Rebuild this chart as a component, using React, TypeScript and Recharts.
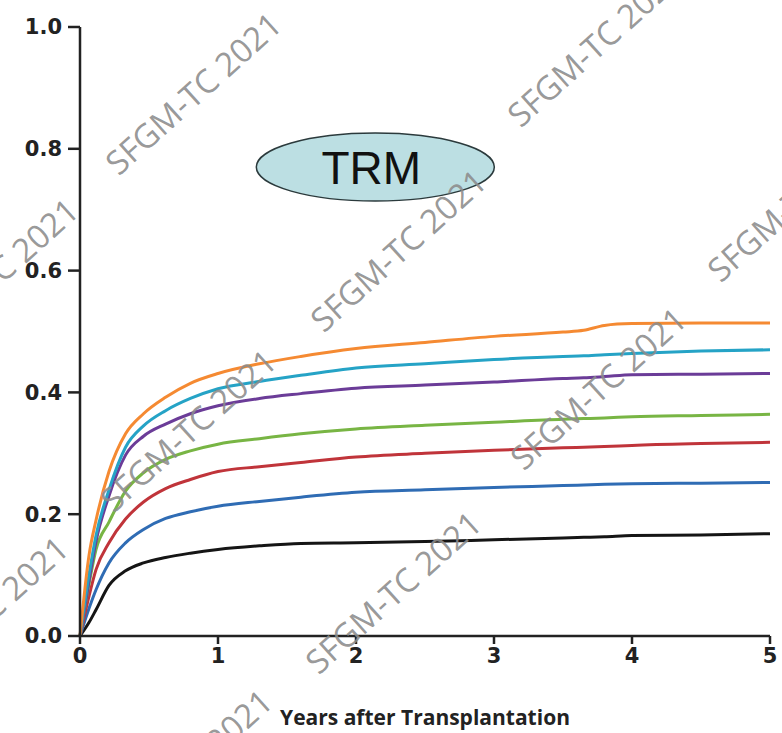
import React from 'react';
import { LineChart, Line, XAxis, YAxis, ReferenceDot } from 'recharts';

// years after transplantation (shared x values)
const years = [0, 0.065, 0.116, 0.21, 0.33, 0.46, 0.62, 0.8, 1.0, 1.3, 1.6, 2, 2.5, 3, 3.5, 3.65, 3.8, 4, 4.5, 5];

// cumulative incidence of TRM per group
const orange = [0, 0.132, 0.19, 0.27, 0.332, 0.365, 0.392, 0.415, 0.431, 0.447, 0.459, 0.472, 0.482, 0.492, 0.499, 0.502, 0.51, 0.513, 0.514, 0.514];
const cyan = [0, 0.1, 0.165, 0.24, 0.31, 0.345, 0.37, 0.39, 0.406, 0.418, 0.428, 0.44, 0.447, 0.454, 0.459, 0.46, 0.462, 0.464, 0.468, 0.47];
const purple = [0, 0.09, 0.155, 0.23, 0.297, 0.328, 0.348, 0.365, 0.378, 0.39, 0.398, 0.407, 0.412, 0.417, 0.423, 0.424, 0.426, 0.429, 0.43, 0.431];
const green = [0, 0.085, 0.142, 0.187, 0.238, 0.268, 0.29, 0.304, 0.315, 0.324, 0.332, 0.34, 0.346, 0.351, 0.356, 0.357, 0.358, 0.36, 0.362, 0.364];
const red = [0, 0.065, 0.109, 0.153, 0.192, 0.22, 0.242, 0.257, 0.27, 0.278, 0.285, 0.294, 0.3, 0.305, 0.309, 0.31, 0.311, 0.313, 0.316, 0.318];
const blue = [0, 0.045, 0.076, 0.12, 0.153, 0.175, 0.193, 0.204, 0.213, 0.221, 0.228, 0.236, 0.24, 0.244, 0.247, 0.248, 0.249, 0.25, 0.251, 0.252];
const black = [0, 0.022, 0.043, 0.083, 0.107, 0.12, 0.129, 0.136, 0.142, 0.148, 0.152, 0.153, 0.155, 0.158, 0.161, 0.162, 0.163, 0.165, 0.166, 0.168];

const xTicks = [0, 1, 2, 3, 4, 5];
const yTicks = [0, 0.2, 0.4, 0.6, 0.8, 1.0];

const series = [
  { key: 'black', color: '#151515' },
  { key: 'blue', color: '#2f6cb4' },
  { key: 'red', color: '#c0343a' },
  { key: 'green', color: '#78b544' },
  { key: 'purple', color: '#6b3c98' },
  { key: 'cyan', color: '#25a3c6' },
  { key: 'orange', color: '#f58a32' },
];

const data = years.map((t, i) => ({
  t,
  orange: orange[i],
  cyan: cyan[i],
  purple: purple[i],
  green: green[i],
  red: red[i],
  blue: blue[i],
  black: black[i],
}));

// watermark centres (page pixels)
const watermarks = [
  [193, 93], [595, 45], [795, 200], [-10, 279], [398, 250],
  [188, 430], [598, 388], [-20, 617], [393, 592], [184, 770],
];

const axisColor = '#222';
const tickFont = { fontFamily: 'DejaVu Sans', fontWeight: 'bold', fontSize: 21, fill: '#222' };

const TrmLabel = (props: any) => {
  const { cx, cy } = props;
  return (
    <g>
      <ellipse cx={cx} cy={cy} rx={119} ry={34} fill="#bcdfe3" stroke="#2b3a3c" strokeWidth={1.5} />
      <text x={cx - 4} y={cy + 1} textAnchor="middle" dominantBaseline="central"
        fontFamily="Liberation Sans" fontSize={46} fill="#111">TRM</text>
    </g>
  );
};

const App: React.FC = () => {
  return (
    <div style={{ position: 'absolute', left: 0, top: 0, width: 782, height: 733, background: '#fff', overflow: 'hidden' }}>
      <LineChart width={782} height={733} data={data} margin={{ top: 27, right: 12, bottom: 0, left: 0 }}>
        <XAxis
          dataKey="t"
          type="number"
          domain={[0, 5]}
          ticks={xTicks}
          stroke={axisColor}
          strokeWidth={2.5}
          tickSize={8}
          tickMargin={4}
          height={97}
          tick={tickFont}
          label={{
            value: 'Years after Transplantation',
            position: 'insideBottom',
            offset: 8,
            style: { fontFamily: 'Open Sans', fontWeight: 'bold', fontSize: 21, fill: '#222' },
          }}
        />
        <YAxis
          type="number"
          domain={[0, 1]}
          ticks={yTicks}
          width={80}
          stroke={axisColor}
          strokeWidth={2.5}
          tickSize={12}
          tickMargin={6}
          tick={tickFont}
          tickFormatter={(v: number) => v.toFixed(1)}
        />
        {series.map((s) => (
          <Line
            key={s.key}
            type="monotone"
            dataKey={s.key}
            stroke={s.color}
            strokeWidth={3}
            dot={false}
            isAnimationActive={false}
          />
        ))}
        <ReferenceDot x={2.14} y={0.77} r={0} shape={TrmLabel} />
      </LineChart>
      <svg width={782} height={733} style={{ position: 'absolute', left: 0, top: 0, pointerEvents: 'none' }}>
        {watermarks.map(([x, y], i) => (
          <text key={i} x={x} y={y} textAnchor="middle" dominantBaseline="central"
            transform={`rotate(-42 ${x} ${y})`} fontFamily="Open Sans" fontSize={33} fill="#8c8c8c" fillOpacity={0.9}>
            SFGM-TC 2021
          </text>
        ))}
      </svg>
    </div>
  );
};

export default App;
